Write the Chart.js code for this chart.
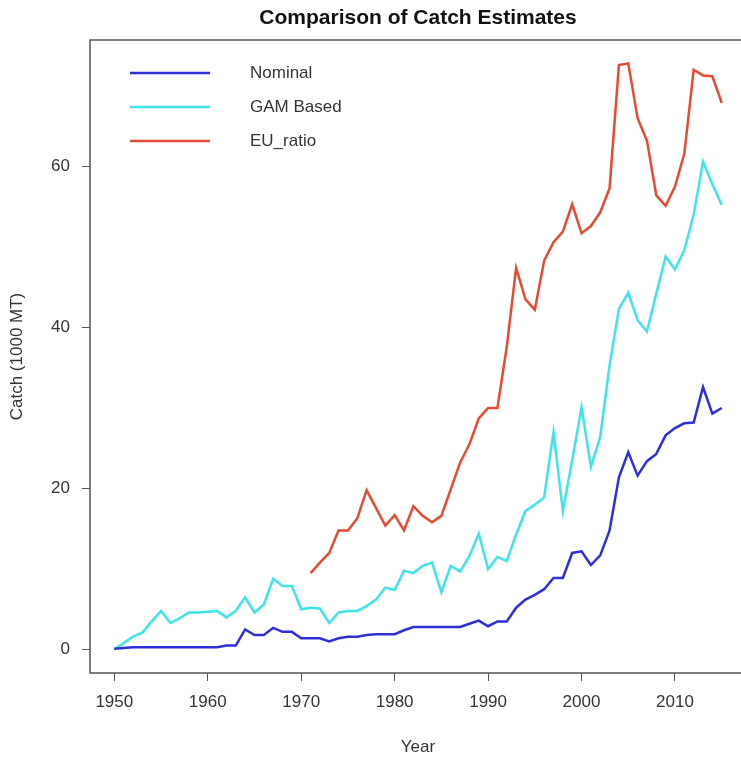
<!DOCTYPE html>
<html>
<head>
<meta charset="utf-8">
<title>Comparison of Catch Estimates</title>
<script src="https://cdn.jsdelivr.net/npm/chart.js@4.4.1/dist/chart.umd.min.js"></script>
<style>
  html, body { margin: 0; padding: 0; background: #ffffff; overflow: hidden; }
  #wrap { width: 741px; height: 758px; overflow: hidden; }
  canvas { display: block; }
</style>
</head>
<body>
<div id="wrap"><canvas id="chart" width="760" height="758"></canvas></div>
<script>
// Catch series, thousand metric tons per year
const years = [
  1950, 1951, 1952, 1953, 1954, 1955, 1956, 1957, 1958, 1959,
  1960, 1961, 1962, 1963, 1964, 1965, 1966, 1967, 1968, 1969,
  1970, 1971, 1972, 1973, 1974, 1975, 1976, 1977, 1978, 1979,
  1980, 1981, 1982, 1983, 1984, 1985, 1986, 1987, 1988, 1989,
  1990, 1991, 1992, 1993, 1994, 1995, 1996, 1997, 1998, 1999,
  2000, 2001, 2002, 2003, 2004, 2005, 2006, 2007, 2008, 2009,
  2010, 2011, 2012, 2013, 2014, 2015
];

const nominal = [
  0.1, 0.2, 0.3, 0.3, 0.3, 0.3, 0.3, 0.3, 0.3, 0.3,
  0.3, 0.3, 0.5, 0.5, 2.5, 1.8, 1.8, 2.7, 2.2, 2.2,
  1.4, 1.4, 1.4, 1.0, 1.4, 1.6, 1.6, 1.8, 1.9, 1.9,
  1.9, 2.4, 2.8, 2.8, 2.8, 2.8, 2.8, 2.8, 3.2, 3.6,
  2.9, 3.5, 3.5, 5.2, 6.2, 6.8, 7.5, 8.9, 8.9, 12.0,
  12.2, 10.5, 11.7, 14.8, 21.4, 24.5, 21.6, 23.4, 24.3, 26.6,
  27.5, 28.1, 28.2, 32.6, 29.3, 30.0
];

const gamBased = [
  0.0, 0.8, 1.6, 2.1, 3.5, 4.8, 3.3, 3.9, 4.6, 4.6,
  4.7, 4.8, 4.0, 4.8, 6.5, 4.6, 5.6, 8.8, 7.9, 7.9,
  5.0, 5.2, 5.1, 3.3, 4.6, 4.8, 4.8, 5.4, 6.2, 7.7,
  7.4, 9.8, 9.5, 10.4, 10.8, 7.1, 10.4, 9.7, 11.6, 14.4,
  10.0, 11.5, 11.0, 14.3, 17.2, 18.0, 18.9, 27.0, 17.2, 23.5,
  30.1, 22.7, 26.4, 35.3, 42.3, 44.3, 40.9, 39.5, 44.2, 48.8,
  47.2, 49.6, 54.0, 60.6, 57.8, 55.2
];

// EU ratio estimate is only available from 1971 on
const euRatio = [
  null, null, null, null, null, null, null, null, null, null,
  null, null, null, null, null, null, null, null, null, null,
  null, 9.5, 10.8, 12.0, 14.8, 14.8, 16.3, 19.8, 17.6, 15.4,
  16.7, 14.8, 17.8, 16.6, 15.8, 16.6, 19.9, 23.2, 25.5, 28.7,
  30.0, 30.0, 37.6, 47.4, 43.5, 42.2, 48.3, 50.6, 51.9, 55.3,
  51.7, 52.6, 54.3, 57.3, 72.6, 72.8, 66.0, 63.2, 56.4, 55.1,
  57.5, 61.6, 72.0, 71.3, 71.2, 67.9
];

const xTicks = [1950, 1960, 1970, 1980, 1990, 2000, 2010];
const yTicks = [0, 20, 40, 60];

const seriesNames = ['Nominal', 'GAM Based', 'EU_ratio'];
const seriesColors = ['#2f2fd8', '#3ee4e8', '#e64a32'];

const FONT = '"Liberation Sans", Arial, Helvetica, sans-serif';
const INK = '#333333';
const FRAME = '#555555';
const LABEL_SIZE = 17;

function toPoints(values) {
  return years.map((yr, i) => ({ x: yr, y: values[i] }));
}

// Frame around the plotting region
const framePlugin = {
  id: 'frame',
  afterDraw(chart) {
    const a = chart.chartArea, ctx = chart.ctx;
    ctx.save();
    ctx.strokeStyle = FRAME;
    ctx.lineWidth = 1.5;
    ctx.strokeRect(a.left, a.top, a.right - a.left, a.bottom - a.top);
    ctx.restore();
  }
};

// Heading centred over the plotting region
const headingPlugin = {
  id: 'heading',
  afterDraw(chart) {
    const a = chart.chartArea, ctx = chart.ctx;
    ctx.save();
    ctx.fillStyle = '#111111';
    ctx.font = 'bold 21px ' + FONT;
    ctx.textAlign = 'center';
    ctx.textBaseline = 'middle';
    ctx.fillText('Comparison of Catch Estimates', (a.left + a.right) / 2, 18);
    ctx.restore();
  }
};

// Line legend placed inside the top-left of the plotting region
const keyPlugin = {
  id: 'key',
  afterDatasetsDraw(chart) {
    const a = chart.chartArea, ctx = chart.ctx;
    ctx.save();
    chart.data.datasets.forEach((ds, i) => {
      const y = a.top + 33 + i * 34;
      ctx.strokeStyle = ds.borderColor;
      ctx.lineWidth = 2.5;
      ctx.beginPath();
      ctx.moveTo(a.left + 40, y);
      ctx.lineTo(a.left + 120, y);
      ctx.stroke();
      ctx.fillStyle = INK;
      ctx.font = LABEL_SIZE + 'px ' + FONT;
      ctx.textAlign = 'left';
      ctx.textBaseline = 'middle';
      ctx.fillText(ds.label, a.left + 160, y);
    });
    ctx.restore();
  }
};

const datasets = [nominal, gamBased, euRatio].map((vals, i) => ({
  label: seriesNames[i],
  data: toPoints(vals),
  borderColor: seriesColors[i],
  backgroundColor: seriesColors[i],
  borderWidth: 2.5,
  pointRadius: 0,
  tension: 0,
  spanGaps: false,
  fill: false
}));

new Chart(document.getElementById('chart'), {
  type: 'line',
  data: { datasets },
  plugins: [framePlugin, headingPlugin, keyPlugin],
  options: {
    responsive: false,
    animation: false,
    devicePixelRatio: 1,
    layout: { padding: { top: 40, right: 14, left: 0, bottom: 0 } },
    plugins: {
      legend: { display: false },
      title: { display: false },
      tooltip: { enabled: false }
    },
    scales: {
      x: {
        type: 'linear',
        min: 1947.4,
        max: 2017.6,
        afterFit(s) { s.height = 85; },
        afterBuildTicks(s) { s.ticks = xTicks.map(v => ({ value: v })); },
        grid: {
          display: true,
          drawOnChartArea: false,
          drawTicks: true,
          tickLength: 8,
          color: FRAME,
          lineWidth: 1
        },
        border: { display: false },
        ticks: {
          color: INK,
          font: { family: FONT, size: LABEL_SIZE },
          padding: 11,
          maxRotation: 0,
          callback: v => String(v)
        },
        title: {
          display: true,
          text: 'Year',
          color: INK,
          font: { family: FONT, size: LABEL_SIZE },
          padding: { top: 0, bottom: 0 }
        }
      },
      y: {
        type: 'linear',
        min: -2.91,
        max: 75.7,
        afterFit(s) { s.width = 90; },
        afterBuildTicks(s) { s.ticks = yTicks.map(v => ({ value: v })); },
        grid: {
          display: true,
          drawOnChartArea: false,
          drawTicks: true,
          tickLength: 8,
          color: FRAME,
          lineWidth: 1
        },
        border: { display: false },
        ticks: {
          color: INK,
          font: { family: FONT, size: LABEL_SIZE },
          padding: 12,
          callback: v => String(v)
        },
        title: {
          display: true,
          text: 'Catch (1000 MT)',
          color: INK,
          font: { family: FONT, size: LABEL_SIZE },
          padding: { top: 7, bottom: 0 }
        }
      }
    }
  }
});
</script>
</body>
</html>
